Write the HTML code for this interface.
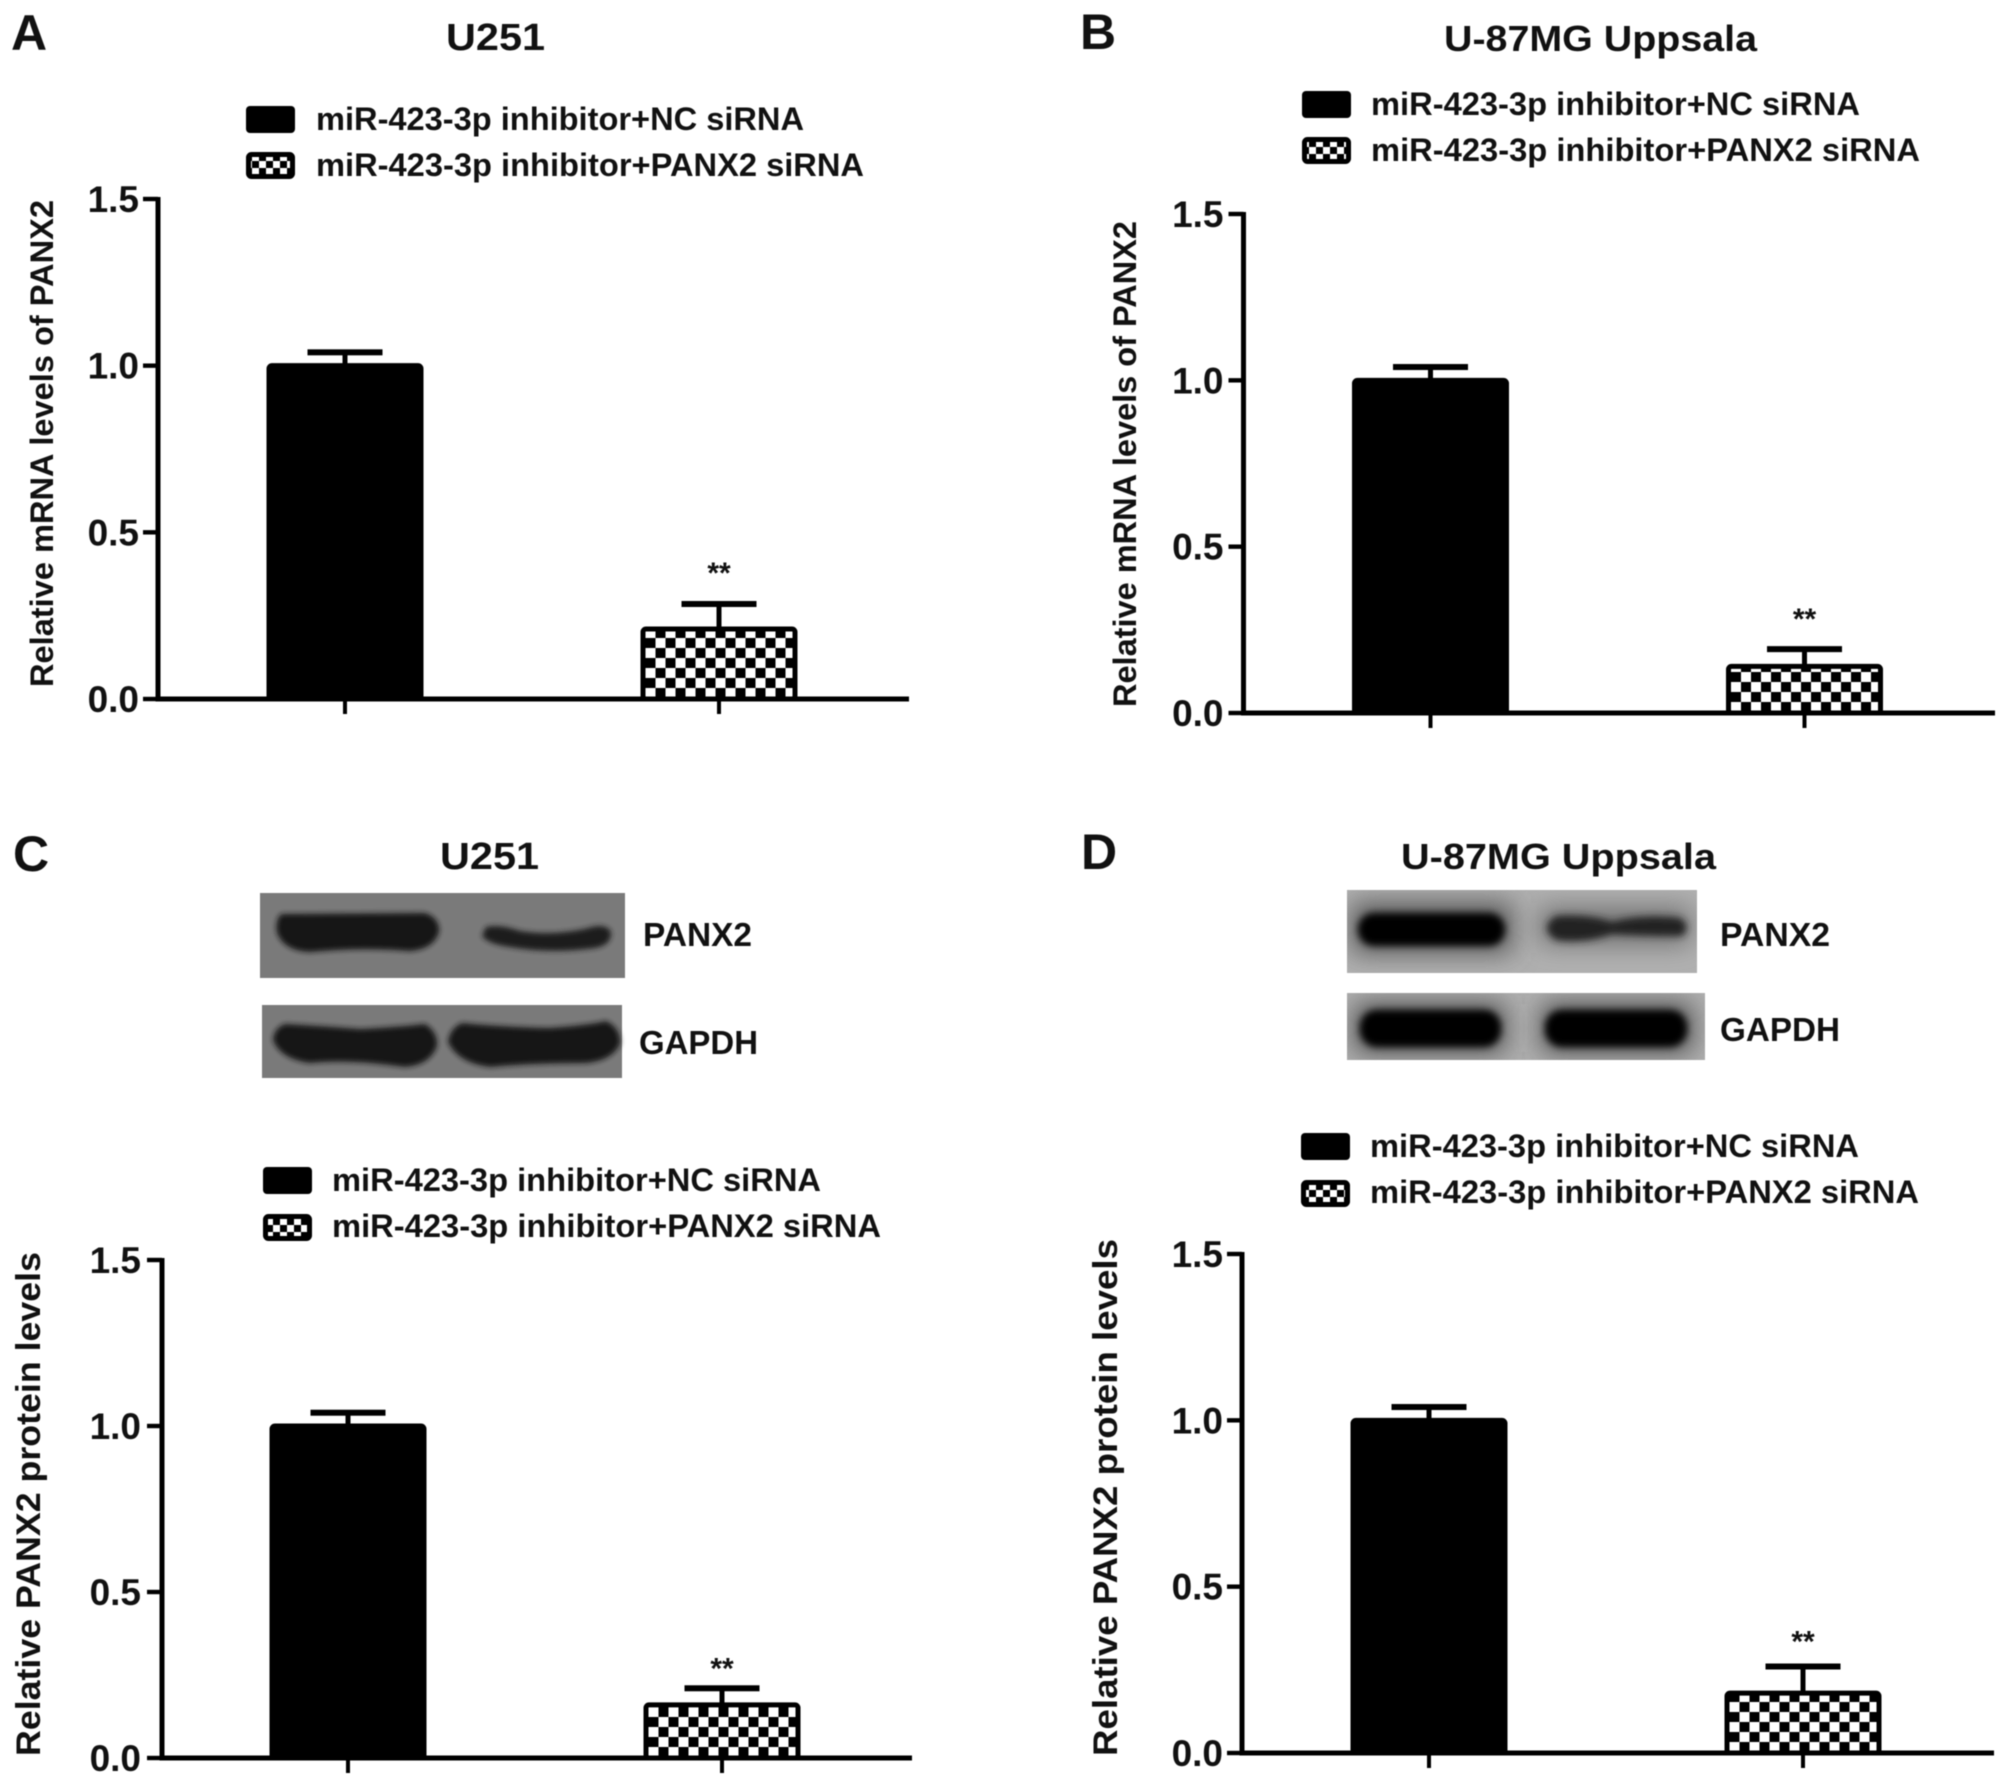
<!DOCTYPE html>
<html lang="en">
<head>
<meta charset="utf-8">
<title>PANX2 expression after miR-423-3p inhibitor and PANX2 siRNA</title>
<style>
  html, body { margin: 0; padding: 0; background: #fff; }
  svg { display: block; filter: blur(0.55px); }
  text { font-family: "Liberation Sans", Arial, sans-serif; font-weight: bold; fill: #111; }
</style>
</head>
<body>
<svg id="figure" xmlns="http://www.w3.org/2000/svg" width="2008" height="1786" viewBox="0 0 2008 1786">
  <defs>
    <filter id="blur-band" x="-20%" y="-60%" width="140%" height="220%"><feGaussianBlur stdDeviation="2.6"/></filter>
    <filter id="blur-band-d" x="-20%" y="-60%" width="140%" height="220%"><feGaussianBlur stdDeviation="3.6"/></filter>
    <filter id="blur-halo" x="-30%" y="-150%" width="160%" height="400%"><feGaussianBlur stdDeviation="13"/></filter>
    <clipPath id="clip-d-top"><rect x="1347" y="890" width="350" height="83"/></clipPath>
    <clipPath id="clip-d-bottom"><rect x="1347" y="993" width="358" height="67"/></clipPath>
    <pattern id="legend-checker" patternUnits="userSpaceOnUse" x="0" y="0" width="14" height="14">
      <rect width="14" height="14" fill="#000"/>
      <rect x="0" y="0" width="7" height="7" fill="#fff"/>
      <rect x="7" y="7" width="7" height="7" fill="#fff"/>
    </pattern>
  </defs>

  <text x="11" y="50" font-size="50">A</text>
  <text x="1080" y="49" font-size="50">B</text>
  <text x="13" y="871" font-size="50">C</text>
  <text x="1081" y="869" font-size="50">D</text>

  <text x="446" y="50" font-size="38" textLength="99" lengthAdjust="spacingAndGlyphs">U251</text>
  <text x="1444" y="51" font-size="36" textLength="313" lengthAdjust="spacingAndGlyphs">U-87MG Uppsala</text>
  <text x="440" y="869" font-size="38" textLength="99" lengthAdjust="spacingAndGlyphs">U251</text>
  <text x="1401" y="869" font-size="36" textLength="315" lengthAdjust="spacingAndGlyphs">U-87MG Uppsala</text>

  <!-- Legends -->
  <g>
    <rect x="246" y="106" width="49" height="27" rx="4" fill="#000"/>
    <text x="316" y="130" font-size="32" textLength="488" lengthAdjust="spacingAndGlyphs">miR-423-3p inhibitor+NC siRNA</text>
    <rect x="248.5" y="154.5" width="44" height="22" rx="3" fill="url(#legend-checker)" stroke="#000" stroke-width="5"/>
    <text x="316" y="176" font-size="32" textLength="548" lengthAdjust="spacingAndGlyphs">miR-423-3p inhibitor+PANX2 siRNA</text>
  </g>
  <g>
    <rect x="1302" y="91" width="49" height="27" rx="4" fill="#000"/>
    <text x="1371" y="115" font-size="32" textLength="489" lengthAdjust="spacingAndGlyphs">miR-423-3p inhibitor+NC siRNA</text>
    <rect x="1304.5" y="139.5" width="44" height="22" rx="3" fill="url(#legend-checker)" stroke="#000" stroke-width="5"/>
    <text x="1371" y="161" font-size="32" textLength="549" lengthAdjust="spacingAndGlyphs">miR-423-3p inhibitor+PANX2 siRNA</text>
  </g>
  <g>
    <rect x="263" y="1167" width="49" height="27" rx="4" fill="#000"/>
    <text x="332" y="1191" font-size="32" textLength="489" lengthAdjust="spacingAndGlyphs">miR-423-3p inhibitor+NC siRNA</text>
    <rect x="265.5" y="1216.5" width="44" height="22" rx="3" fill="url(#legend-checker)" stroke="#000" stroke-width="5"/>
    <text x="332" y="1237" font-size="32" textLength="549" lengthAdjust="spacingAndGlyphs">miR-423-3p inhibitor+PANX2 siRNA</text>
  </g>
  <g>
    <rect x="1301" y="1133" width="49" height="27" rx="4" fill="#000"/>
    <text x="1370" y="1157" font-size="32" textLength="489" lengthAdjust="spacingAndGlyphs">miR-423-3p inhibitor+NC siRNA</text>
    <rect x="1303.5" y="1182.5" width="44" height="22" rx="3" fill="url(#legend-checker)" stroke="#000" stroke-width="5"/>
    <text x="1370" y="1203" font-size="32" textLength="549" lengthAdjust="spacingAndGlyphs">miR-423-3p inhibitor+PANX2 siRNA</text>
  </g>

  <!-- Western blots, panel C -->
  <g>
    <rect x="260" y="893" width="365" height="85" fill="#7a7a7a"/>
    <path d="M281 914 L425 913 Q440 918 439 932 Q434 949 410 951 Q360 947 310 952 Q284 951 277 933 Q275 920 281 914 Z" fill="#141414" filter="url(#blur-band)"/>
    <path d="M486 927 Q500 924 520 931 Q550 936 585 929 Q606 922 611 932 Q612 945 595 948 Q550 954 510 947 Q488 944 482 936 Z" fill="#1c1c1c" filter="url(#blur-band)"/>
    <text x="643" y="946" font-size="33" textLength="109" lengthAdjust="spacingAndGlyphs">PANX2</text>
  </g>
  <g>
    <rect x="262" y="1005" width="360" height="73" fill="#7a7a7a"/>
    <path d="M285 1024 Q320 1026 360 1029 Q400 1027 425 1024 Q438 1032 437 1046 Q430 1065 405 1067 Q350 1059 310 1063 Q280 1059 273 1040 Q274 1028 285 1024 Z" fill="#141414" filter="url(#blur-band)"/>
    <path d="M462 1023 Q500 1027 550 1028 Q590 1025 606 1021 Q621 1028 620 1044 Q612 1061 585 1063 Q530 1063 490 1067 Q458 1063 448 1042 Q450 1028 462 1023 Z" fill="#141414" filter="url(#blur-band)"/>
    <text x="639" y="1054" font-size="33" textLength="119" lengthAdjust="spacingAndGlyphs">GAPDH</text>
  </g>

  <!-- Western blots, panel D -->
  <g>
    <g clip-path="url(#clip-d-top)">
      <rect x="1347" y="890" width="350" height="83" fill="#b0b0b0"/>
      <rect x="1352" y="903" width="160" height="50" fill="#555" filter="url(#blur-halo)"/>
      <rect x="1540" y="908" width="150" height="36" fill="#6e6e6e" filter="url(#blur-halo)"/>
    </g>
    <rect x="1358" y="913" width="147" height="33" rx="16" fill="#040404" filter="url(#blur-band-d)"/>
    <path d="M1556 916 Q1590 914 1612 922 Q1640 914 1680 918 Q1692 926 1682 936 Q1640 936 1612 934 Q1585 944 1556 940 Q1538 928 1556 916 Z" fill="#242424" filter="url(#blur-band-d)"/>
    <text x="1720" y="946" font-size="33" textLength="110" lengthAdjust="spacingAndGlyphs">PANX2</text>
  </g>
  <g>
    <g clip-path="url(#clip-d-bottom)">
      <rect x="1347" y="993" width="358" height="67" fill="#b0b0b0"/>
      <rect x="1355" y="1004" width="150" height="48" fill="#484848" filter="url(#blur-halo)"/>
      <rect x="1542" y="1004" width="150" height="48" fill="#484848" filter="url(#blur-halo)"/>
    </g>
    <rect x="1360" y="1010" width="141" height="37" rx="17" fill="#040404" filter="url(#blur-band-d)"/>
    <rect x="1545" y="1010" width="142" height="37" rx="17" fill="#040404" filter="url(#blur-band-d)"/>
    <text x="1720" y="1041" font-size="33" textLength="120" lengthAdjust="spacingAndGlyphs">GAPDH</text>
  </g>

  <!-- Y axis titles -->
  <text transform="translate(53 687) rotate(-90)" font-size="32" textLength="487" lengthAdjust="spacingAndGlyphs">Relative mRNA levels of PANX2</text>
  <text transform="translate(1136 707) rotate(-90)" font-size="32" textLength="486" lengthAdjust="spacingAndGlyphs">Relative mRNA levels of PANX2</text>
  <text transform="translate(40 1756) rotate(-90)" font-size="34" textLength="504" lengthAdjust="spacingAndGlyphs">Relative PANX2 protein levels</text>
  <text transform="translate(1117 1756) rotate(-90)" font-size="34" textLength="517" lengthAdjust="spacingAndGlyphs">Relative PANX2 protein levels</text>

  <g id="charts"></g>
</svg>

<script>
const categories = ['miR-423-3p inhibitor+NC siRNA', 'miR-423-3p inhibitor+PANX2 siRNA'];
const yTicks = [0, 0.5, 1, 1.5];
const yTickLabels = ['0.0', '0.5', '1.0', '1.5'];
const significance = ['', '**'];

const meansA = [1.0, 0.21];
const errorsA = [0.04, 0.075];
const meansB = [1.0, 0.14];
const errorsB = [0.04, 0.052];
const meansC = [1.0, 0.16];
const errorsC = [0.04, 0.05];
const meansD = [1.0, 0.18];
const errorsD = [0.04, 0.08];

const SVG_NS = 'http://www.w3.org/2000/svg';
const chartsRoot = document.getElementById('charts');
const defsRoot = document.querySelector('#figure defs');

function make(tag, attrs, parent) {
  const el = document.createElementNS(SVG_NS, tag);
  Object.keys(attrs).forEach(function (k) { el.setAttribute(k, attrs[k]); });
  parent.appendChild(el);
  return el;
}

function drawPanel(key, means, errors, box) {
  const yScale = function (v) { return box.y0 + (box.y15 - box.y0) * (v - 0) / (1.5 - 0); };
  const xScale = function (i) { return box.c0 + i * (box.c1 - box.c0); };
  const barWidth = 157;

  const pattern = make('pattern', {
    id: 'checker-' + key, patternUnits: 'userSpaceOnUse', width: 20, height: 20,
    patternTransform: 'translate(' + (xScale(1) - barWidth / 2 + 5) + ' ' + (box.y0 - 11) + ')'
  }, defsRoot);
  make('rect', { width: 20, height: 20, fill: '#000' }, pattern);
  make('rect', { x: 0, y: 0, width: 10, height: 10, fill: '#fff' }, pattern);
  make('rect', { x: 10, y: 10, width: 10, height: 10, fill: '#fff' }, pattern);

  const group = make('g', {}, chartsRoot);
  
  

  categories.forEach(function (cat, i) {
    const cx = xScale(i);
    const top = yScale(means[i]);
    const errTop = yScale(means[i] + errors[i]);

    const stem = make('rect', { x: cx - 2.5, y: errTop, width: 5, height: top - errTop, fill: '#000' }, group);
    
    

    const cap = make('rect', { x: cx - 37.5, y: errTop - 3, width: 75, height: 6, fill: '#000' }, group);
    
    

    const bar = make('rect', {
      x: cx - barWidth / 2 + 2.5, y: top, width: barWidth - 5, height: box.y0 - top, rx: 3,
      fill: i === 0 ? '#000' : 'url(#checker-' + key + ')', stroke: '#000', 'stroke-width': 5
    }, group);
    
    

    const tick = make('rect', { x: cx - 2, y: box.y0, width: 4, height: 15, fill: '#000' }, group);
    
    

    if (significance[i]) {
      const star = make('text', {
        x: cx, y: errTop - box.starGap, 'text-anchor': 'middle', 'font-size': 30
      }, group);
      star.textContent = significance[i];
      
      
    }
  });

  const yAxis = make('rect', { x: box.axisX - 2.5, y: box.y15 - 2, width: 5, height: box.y0 - box.y15 + 4, fill: '#000' }, group);
  
  

  const xAxis = make('rect', { x: box.axisX - 2.5, y: box.y0 - 2.5, width: box.right - box.axisX + 2.5, height: 5, fill: '#000' }, group);
  
  

  yTicks.forEach(function (t, i) {
    const y = yScale(t);
    const mark = make('rect', { x: box.axisX - 15, y: y - 2.2, width: 15, height: 4.4, fill: '#000' }, group);
    
    

    const label = make('text', {
      x: box.axisX - box.labelGap, y: y + 13, 'text-anchor': 'end', 'font-size': 37
    }, group);
    label.textContent = yTickLabels[i];
    
    
  });
}

drawPanel('a', meansA, errorsA, { axisX: 158, y15: 199, y0: 699, right: 909, c0: 345, c1: 719, starGap: 21, labelGap: 19 });
drawPanel('b', meansB, errorsB, { axisX: 1243.5, y15: 214, y0: 713, right: 1995, c0: 1430.5, c1: 1804.5, starGap: 20, labelGap: 20 });
drawPanel('c', meansC, errorsC, { axisX: 162, y15: 1260, y0: 1758, right: 912, c0: 348, c1: 722, starGap: 10, labelGap: 21 });
drawPanel('d', meansD, errorsD, { axisX: 1242, y15: 1254, y0: 1753, right: 1994, c0: 1429, c1: 1803, starGap: 15, labelGap: 19 });
</script>
</body>
</html>
